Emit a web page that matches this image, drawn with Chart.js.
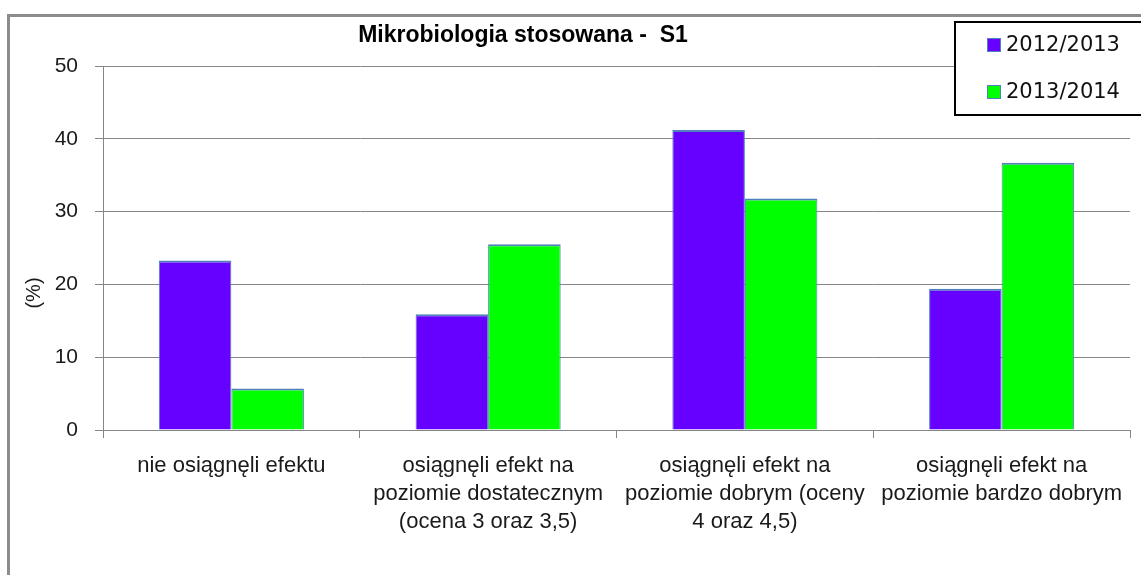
<!DOCTYPE html>
<html>
<head>
<meta charset="utf-8">
<script src="https://cdn.jsdelivr.net/npm/chart.js@4.4.1/dist/chart.umd.min.js"></script>
<style>
html,body{margin:0;padding:0;background:#fff;}
#wrap{width:1141px;height:575px;position:relative;}
</style>
</head>
<body>
<div id="wrap"><canvas id="c" width="1141" height="575"></canvas></div>
<script>
const chartTitle = 'Mikrobiologia stosowana -  S1';
const categories = [
  ['nie osiągnęli efektu'],
  ['osiągnęli efekt na', 'poziomie dostatecznym', '(ocena 3 oraz 3,5)'],
  ['osiągnęli efekt na', 'poziomie dobrym (oceny', '4 oraz 4,5)'],
  ['osiągnęli efekt na', 'poziomie bardzo dobrym']
];
const seriesNames = ['2012/2013', '2013/2014'];
const values2012 = [23.3, 15.9, 41.2, 19.4];
const values2013 = [5.7, 25.5, 31.8, 36.7];
const yTicks = [0, 10, 20, 30, 40, 50];
const yAxisTitle = '(%)';

const colors = ['#6600FF', '#00FF00'];
const GRID = '#868686';
const TEXT = '#1a1a1a';

const decor = {
  id: 'decor',
  beforeDraw(chart) {
    const ctx = chart.ctx;
    ctx.save();
    ctx.fillStyle = '#fff';
    ctx.fillRect(0, 0, chart.width, chart.height);
    ctx.restore();
  },
  afterDraw(chart) {
    const ctx = chart.ctx;
    ctx.save();
    // outer frame
    ctx.strokeStyle = '#8c8c8c';
    ctx.lineWidth = 3;
    ctx.strokeRect(8.5, 15.5, 1160, 600);
    // title
    ctx.fillStyle = '#000';
    ctx.font = 'bold 23px "Liberation Sans", Arial, sans-serif';
    ctx.textAlign = 'center';
    ctx.textBaseline = 'middle';
    ctx.fillText(chartTitle, 523, 36);
    // y axis title
    ctx.save();
    ctx.translate(34, 293);
    ctx.rotate(-Math.PI / 2);
    ctx.font = '20px "Liberation Sans", Arial, sans-serif';
    ctx.fillStyle = TEXT;
    ctx.fillText(yAxisTitle, 0, 0);
    ctx.restore();
    // legend box
    ctx.fillStyle = '#fff';
    ctx.fillRect(954, 21, 200, 94);
    ctx.strokeStyle = '#000';
    ctx.lineWidth = 2;
    ctx.strokeRect(955, 22, 200, 93);
    const ys = [45, 92];
    ctx.font = '21px "DejaVu Sans", sans-serif';
    ctx.textAlign = 'left';
    ctx.textBaseline = 'middle';
    chart.data.datasets.forEach((ds, i) => {
      ctx.fillStyle = ds.backgroundColor;
      ctx.fillRect(987, ys[i] - 7, 14, 14);
      ctx.strokeStyle = '#4F81BD';
      ctx.lineWidth = 1;
      ctx.strokeRect(987.5, ys[i] - 6.5, 13, 13);
      ctx.fillStyle = '#111';
      ctx.fillText(ds.label, 1006, ys[i] + 1);
    });
    ctx.restore();
  }
};

new Chart(document.getElementById('c'), {
  type: 'bar',
  data: {
    labels: categories,
    datasets: [
      { label: seriesNames[0], data: values2012, backgroundColor: colors[0] },
      { label: seriesNames[1], data: values2013, backgroundColor: colors[1] }
    ]
  },
  options: {
    responsive: false,
    animation: false,
    devicePixelRatio: 1,
    layout: { padding: { top: 66, right: 11, left: 0, bottom: 0 } },
    datasets: {
      bar: {
        categoryPercentage: 0.565,
        barPercentage: 1,
        borderColor: '#4F81BD',
        borderWidth: { top: 2, left: 1, right: 1, bottom: 0 },
        borderSkipped: false
      }
    },
    plugins: {
      legend: { display: false },
      title: { display: false },
      tooltip: { enabled: false }
    },
    scales: {
      x: {
        offset: true,
        grid: { display: true, offset: true, drawOnChartArea: false, drawTicks: true, tickLength: 8, color: GRID, lineWidth: 1 },
        border: { display: true, color: GRID, width: 1 },
        ticks: {
          color: TEXT,
          font: { family: '"Liberation Sans", Arial, sans-serif', size: 22, lineHeight: 1.27 },
          padding: 14,
          maxRotation: 0,
          autoSkip: false
        },
        afterFit(scale) { scale.height = 145; }
      },
      y: {
        min: 0,
        max: 50,
        afterBuildTicks(scale) { scale.ticks = yTicks.map(v => ({ value: v })); },
        grid: { color: GRID, lineWidth: 1, drawTicks: true, tickLength: 8 },
        border: { display: true, color: GRID, width: 1 },
        ticks: {
          color: TEXT,
          font: { family: '"Liberation Sans", Arial, sans-serif', size: 21 },
          padding: 17
        },
        afterFit(scale) { scale.width = 103; }
      }
    }
  },
  plugins: [decor]
});
</script>
</body>
</html>
